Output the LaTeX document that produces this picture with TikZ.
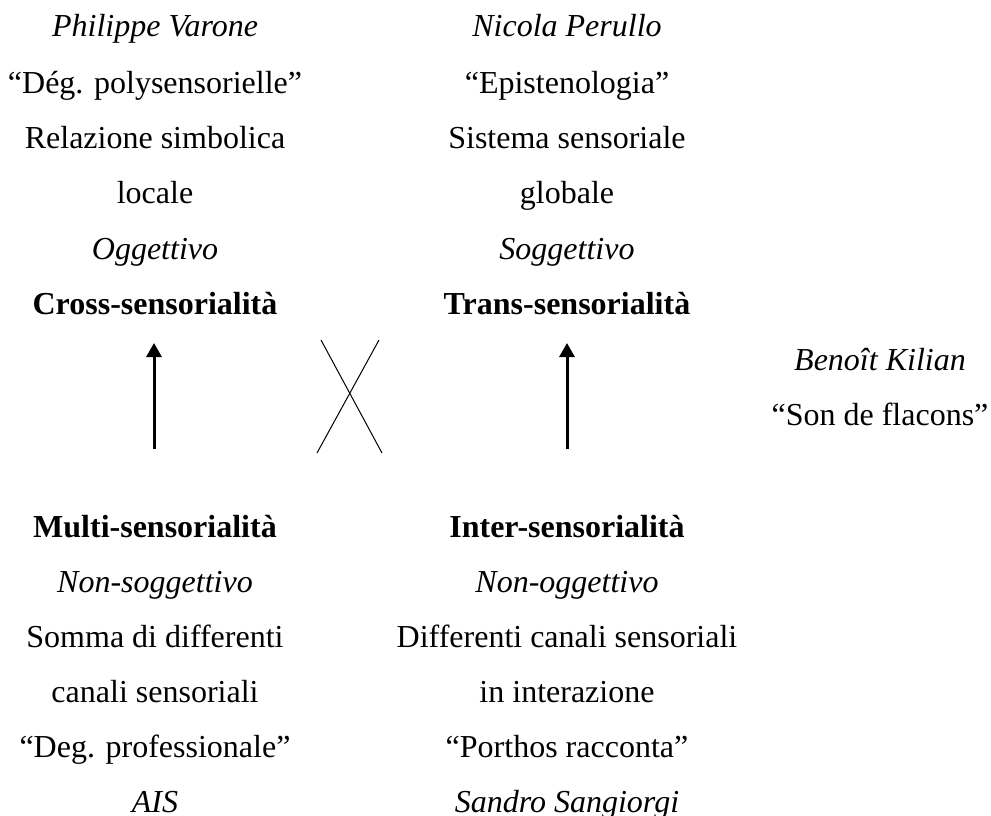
\documentclass[tikz,border=0pt]{standalone}
\usepackage{fontspec}
\setmainfont{Liberation Serif}
\usetikzlibrary{arrows.meta}

\begin{document}
\begin{tikzpicture}[x=1pt,y=-1pt,
  lbl/.style={anchor=base,inner sep=0pt,font=\fontsize{32}{38}\selectfont},
  it/.style={lbl,font=\fontsize{32}{38}\selectfont\itshape},
  bf/.style={lbl,font=\fontsize{32}{38}\selectfont\bfseries},
  uparrow/.style={line width=3pt,-{Triangle[width=15pt,length=14pt]}},
  crossline/.style={line width=1pt}]
\useasboundingbox (0,0) rectangle (991,816);

% upper left: cross-sensoriality
\node[it] (pv)   at (155,37)  {Philippe Varone};
\node[lbl] (dp)  at (155,93)  {“Dég. polysensorielle”};
\node[lbl] (rs)  at (155,148) {Relazione simbolica};
\node[lbl] (lo)  at (155,203) {locale};
\node[it] (og)   at (155,259) {Oggettivo};
\node[bf] (cross) at (155,314) {Cross-sensorialità};

% upper right: trans-sensoriality
\node[it] (np)   at (567,37)  {Nicola Perullo};
\node[lbl] (ep)  at (567,93)  {“Epistenologia”};
\node[lbl] (ss)  at (567,148) {Sistema sensoriale};
\node[lbl] (gl)  at (567,203) {globale};
\node[it] (so)   at (567,259) {Soggettivo};
\node[bf] (trans) at (567,314) {Trans-sensorialità};

% far right
\node[it] (bk)   at (880,370) {Benoît Kilian};
\node[lbl] (sf)  at (880,425) {“Son de flacons”};

% lower left: multi-sensoriality
\node[bf] (multi) at (155,537) {Multi-sensorialità};
\node[it] (ns)   at (155,592) {Non-soggettivo};
\node[lbl] (sd)  at (155,647) {Somma di differenti};
\node[lbl] (cs)  at (155,702) {canali sensoriali};
\node[lbl] (dg)  at (155,757) {“Deg. professionale”};
\node[it] (ais)  at (155,812) {AIS};

% lower right: inter-sensoriality
\node[bf] (inter) at (567,537) {Inter-sensorialità};
\node[it] (no)   at (567,592) {Non-oggettivo};
\node[lbl] (dc)  at (567,647) {Differenti canali sensoriali};
\node[lbl] (ii)  at (567,702) {in interazione};
\node[lbl] (pr)  at (567,757) {“Porthos racconta”};
\node[it] (sa)   at (567,812) {Sandro Sangiorgi};

% arrow end points
\coordinate (la0) at (154,449);
\coordinate (la1) at (154,343);
\coordinate (ra0) at (567,449);
\coordinate (ra1) at (567,343);
\draw[uparrow] (la0) -- (la1);
\draw[uparrow] (ra0) -- (ra1);

% crossing lines between the columns
\coordinate (c1) at (321,340);
\coordinate (c2) at (382,453);
\coordinate (c3) at (379,340);
\coordinate (c4) at (317,453);
\draw[crossline] (c1) -- (c2);
\draw[crossline] (c3) -- (c4);
\end{tikzpicture}
\end{document}
